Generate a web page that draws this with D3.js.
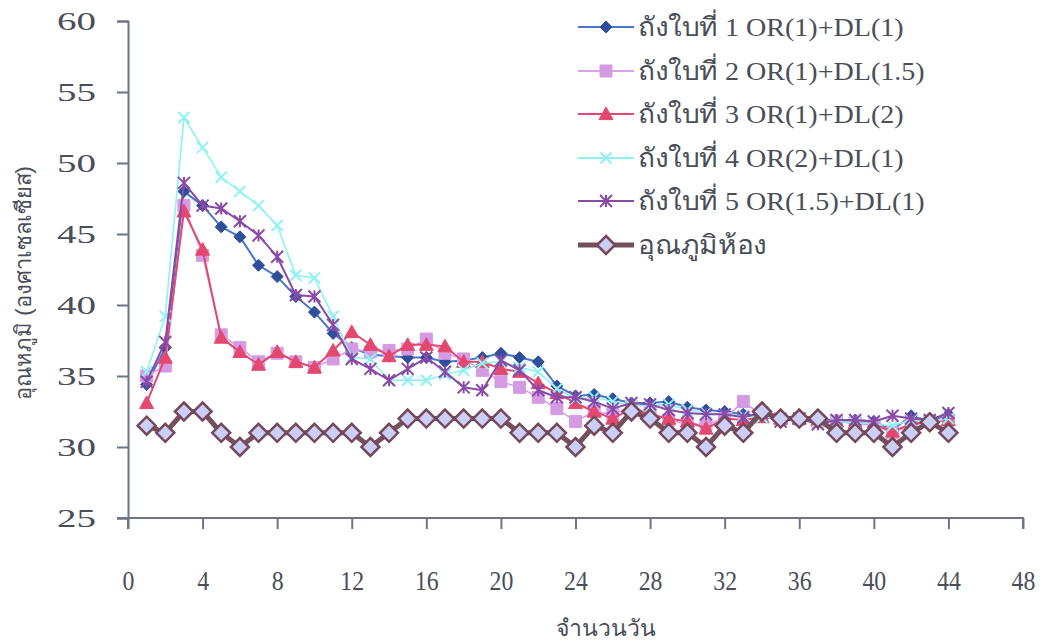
<!DOCTYPE html>
<html>
<head>
<meta charset="utf-8">
<script src="https://cdn.jsdelivr.net/npm/d3@7"></script>
<style>
  html, body { margin: 0; padding: 0; background: #ffffff; }
  svg { display: block; }
  .tick text { font-family: "Liberation Serif", "Times New Roman", serif; }
</style>
</head>
<body>
<svg id="chart" width="1046" height="642"></svg>
<script>
// Temperature readings (°C) per day, days 1..44
const days = d3.range(1, 45);

const tank1 = [34.4, 37.0, 48.0, 47.0, 45.5, 44.8, 42.8, 42.0, 40.6, 39.5,
  38.0, 37.0, 36.5, 36.4, 36.3, 36.3, 36.0, 36.1, 36.3, 36.6,
  36.3, 36.0, 34.3, 33.6, 33.7, 33.4, 33.1, 33.1, 33.2, 32.8,
  32.6, 32.5, 32.3, 32.2, 32.0, 32.0, 31.9, 31.9, 31.9, 31.8,
  31.2, 32.2, 31.8, 32.3];

const tank2 = [35.0, 35.7, 47.0, 43.5, 37.9, 37.0, 36.0, 36.6, 36.0, 35.6,
  36.2, 36.9, 36.7, 36.8, 36.9, 37.6, 36.6, 36.2, 35.4, 34.6,
  34.2, 33.5, 32.7, 31.8, 32.5, 32.3, 32.8, 32.4, 31.9, 31.6,
  31.6, 32.0, 33.2, 32.2, 32.0, 32.0, 31.8, 31.8, 31.7, 31.5,
  31.0, 31.5, 31.8, 31.9];

const tank3 = [33.1, 36.3, 46.6, 43.9, 37.7, 36.7, 35.8, 36.7, 36.0, 35.6,
  36.8, 38.1, 37.2, 36.4, 37.2, 37.2, 37.1, 36.0, 36.0, 35.5,
  35.3, 34.5, 33.8, 33.1, 32.5, 32.0, 32.7, 32.3, 32.0, 31.8,
  31.3, 32.0, 31.9, 32.1, 32.0, 32.0, 31.9, 31.8, 31.7, 31.6,
  31.1, 31.6, 31.8, 31.9];

const tank4 = [35.3, 39.2, 53.2, 51.1, 49.0, 48.0, 47.0, 45.6, 42.1, 41.9,
  39.2, 36.3, 36.2, 34.7, 34.7, 34.7, 35.1, 35.4, 35.9, 36.0,
  35.6, 35.3, 34.1, 33.4, 33.5, 33.2, 32.9, 32.9, 33.0, 32.6,
  32.4, 32.3, 32.2, 32.1, 32.0, 31.9, 31.8, 31.8, 31.7, 31.6,
  31.5, 31.9, 31.8, 32.0];

const tank5 = [34.6, 37.4, 48.6, 47.0, 46.8, 45.9, 44.9, 43.4, 40.7, 40.6,
  38.6, 36.2, 35.5, 34.7, 35.5, 36.3, 35.3, 34.2, 34.0, 36.1,
  35.4, 34.0, 33.5, 33.5, 33.2, 32.7, 33.1, 33.0, 32.6, 32.4,
  32.3, 32.3, 32.1, 32.4, 31.8, 32.0, 31.6, 31.9, 31.9, 31.8,
  32.2, 32.0, 31.9, 32.4];

const room = [31.5, 31.0, 32.5, 32.5, 31.0, 30.0, 31.0, 31.0, 31.0, 31.0,
  31.0, 31.0, 30.0, 31.0, 32.0, 32.0, 32.0, 32.0, 32.0, 32.0,
  31.0, 31.0, 31.0, 30.0, 31.5, 31.0, 32.5, 32.0, 31.0, 31.0,
  30.0, 31.5, 31.0, 32.5, 32.0, 32.0, 32.0, 31.0, 31.0, 31.0,
  30.0, 31.0, 31.75, 31.0];

const seriesNames = [
  "ถังใบที่ 1 OR(1)+DL(1)",
  "ถังใบที่ 2 OR(1)+DL(1.5)",
  "ถังใบที่ 3 OR(1)+DL(2)",
  "ถังใบที่ 4 OR(2)+DL(1)",
  "ถังใบที่ 5 OR(1.5)+DL(1)",
  "อุณภูมิห้อง"
];

const xTicks = d3.range(0, 49, 4);
const yTicks = d3.range(25, 61, 5);
const xTitle = "จำนวนวัน";
const yTitle = "อุณหภูมิ (องศาเซลเซียส)";

// Visual style per series
const styles = [
  { line: "#4677c8", marker: "diamond",  fill: "#2f4f9c", stroke: "#2f4f9c", size: 12, width: 2 },
  { line: "#d9a2e6", marker: "square",   fill: "#d49be2", stroke: "#d49be2", size: 12, width: 1.6 },
  { line: "#e4486f", marker: "triangle", fill: "#e4486f", stroke: "#e4486f", size: 14, width: 2 },
  { line: "#8ef2f2", marker: "cross",    fill: "none",    stroke: "#8ef2f2", size: 11, width: 1.6 },
  { line: "#8a4aa8", marker: "star",     fill: "none",    stroke: "#8a4aa8", size: 12, width: 2 },
  { line: "#74505d", marker: "bigdiamond", fill: "#c9cff6", stroke: "#764859", size: 18, width: 5 }
];

const seriesData = [tank1, tank2, tank3, tank4, tank5, room];

const svg = d3.select("#chart");
const margin = { left: 128, top: 21, right: 1046 - 1023, bottom: 642 - 518 };
const W = 1046 - margin.left - margin.right;
const H = 642 - margin.top - margin.bottom;

const x = d3.scaleLinear().domain([0, 48]).range([margin.left, margin.left + W]);
const y = d3.scaleLinear().domain([25, 60]).range([margin.top + H, margin.top]);

const axisColor = "#6b7585";
const labelColor = "#4a4e58";

// Y axis
const yAxis = svg.append("g")
  .attr("transform", `translate(${margin.left},0)`)
  .call(d3.axisLeft(y).tickValues(yTicks).tickSize(11));
yAxis.select(".domain").attr("stroke", axisColor).attr("stroke-width", 2);
yAxis.selectAll(".tick line").attr("stroke", axisColor).attr("stroke-width", 2);
yAxis.selectAll(".tick text")
  .attr("fill", labelColor).attr("font-size", 26).attr("text-anchor", "end")
  .attr("x", 0).attr("dy", "0.34em")
  .attr("transform", "translate(-32,0) scale(1.5,1)");

// X axis
const xAxis = svg.append("g")
  .attr("transform", `translate(0,${margin.top + H})`)
  .call(d3.axisBottom(x).tickValues(xTicks).tickSize(11));
xAxis.select(".domain").attr("stroke", axisColor).attr("stroke-width", 2)
  .attr("d", `M${margin.left - 11},0H${margin.left + W}V11`);
xAxis.selectAll(".tick line").attr("stroke", axisColor).attr("stroke-width", 2);
xAxis.selectAll(".tick text")
  .attr("fill", labelColor).attr("font-size", 28)
  .attr("y", 0).attr("dy", 0)
  .attr("transform", "translate(0,72) scale(0.85,1)");
// y axis extends slightly below the x axis
svg.append("line")
  .attr("x1", margin.left).attr("x2", margin.left)
  .attr("y1", margin.top + H).attr("y2", margin.top + H + 11)
  .attr("stroke", axisColor).attr("stroke-width", 2);

// Axis titles
svg.append("text")
  .attr("x", 606).attr("y", 636)
  .attr("text-anchor", "middle")
  .attr("font-family", "'Liberation Serif', serif")
  .attr("font-size", 23).attr("fill", labelColor)
  .text(xTitle);

svg.append("text")
  .attr("transform", `translate(31,283) rotate(-90)`)
  .attr("text-anchor", "middle")
  .attr("font-family", "'Liberation Sans Narrow', 'Liberation Sans', sans-serif")
  .attr("font-size", 22).attr("fill", labelColor)
  .text(yTitle);

// Marker shapes
function markerPath(kind, s) {
  const h = s / 2;
  switch (kind) {
    case "diamond":
    case "bigdiamond":
      return `M0,${-h}L${h},0L0,${h}L${-h},0Z`;
    case "square":
      return `M${-h},${-h}H${h}V${h}H${-h}Z`;
    case "triangle":
      return `M0,${-h}L${h},${h * 0.8}L${-h},${h * 0.8}Z`;
    case "cross":
      return `M${-h},${-h}L${h},${h}M${h},${-h}L${-h},${h}`;
    case "star":
      return `M${-h},${-h}L${h},${h}M${h},${-h}L${-h},${h}M0,${-h}V${h}`;
  }
}

function drawMarker(g, st, cx, cy) {
  const p = g.append("path")
    .attr("transform", `translate(${cx},${cy})`)
    .attr("d", markerPath(st.marker, st.size));
  if (st.marker === "cross" || st.marker === "star") {
    p.attr("fill", "none").attr("stroke", st.stroke).attr("stroke-width", 2);
  } else if (st.marker === "bigdiamond") {
    p.attr("fill", st.fill).attr("stroke", st.stroke).attr("stroke-width", 2.5);
  } else {
    p.attr("fill", st.fill).attr("stroke", st.stroke).attr("stroke-width", 1);
  }
  return p;
}

const line = d3.line().x((d, i) => x(days[i])).y(d => y(d));

seriesData.forEach((vals, si) => {
  const st = styles[si];
  const g = svg.append("g").attr("class", "series s" + si);
  g.append("path")
    .datum(vals)
    .attr("d", line)
    .attr("fill", "none")
    .attr("stroke", st.line)
    .attr("stroke-width", st.width)
    .attr("stroke-linejoin", "round");
  vals.forEach((v, i) => drawMarker(g, st, x(days[i]), y(v)));
});

// Legend
const legend = svg.append("g").attr("transform", "translate(578,0)");
const legendY = [27, 71, 114, 158, 201, 245];
seriesNames.forEach((name, i) => {
  const st = styles[i];
  const ly = legendY[i];
  legend.append("line")
    .attr("x1", 0).attr("x2", 56)
    .attr("y1", ly).attr("y2", ly)
    .attr("stroke", st.line)
    .attr("stroke-width", i === 5 ? 5 : 2);
  drawMarker(legend, st, 28, ly);
  legend.append("text")
    .attr("x", 0).attr("y", 0)
    .attr("transform", `translate(60,${ly + 9}) scale(1.08,1)`)
    .attr("font-family", "'Liberation Serif', serif")
    .attr("font-size", 26).attr("fill", labelColor)
    .text(name);
});
</script>
</body>
</html>
